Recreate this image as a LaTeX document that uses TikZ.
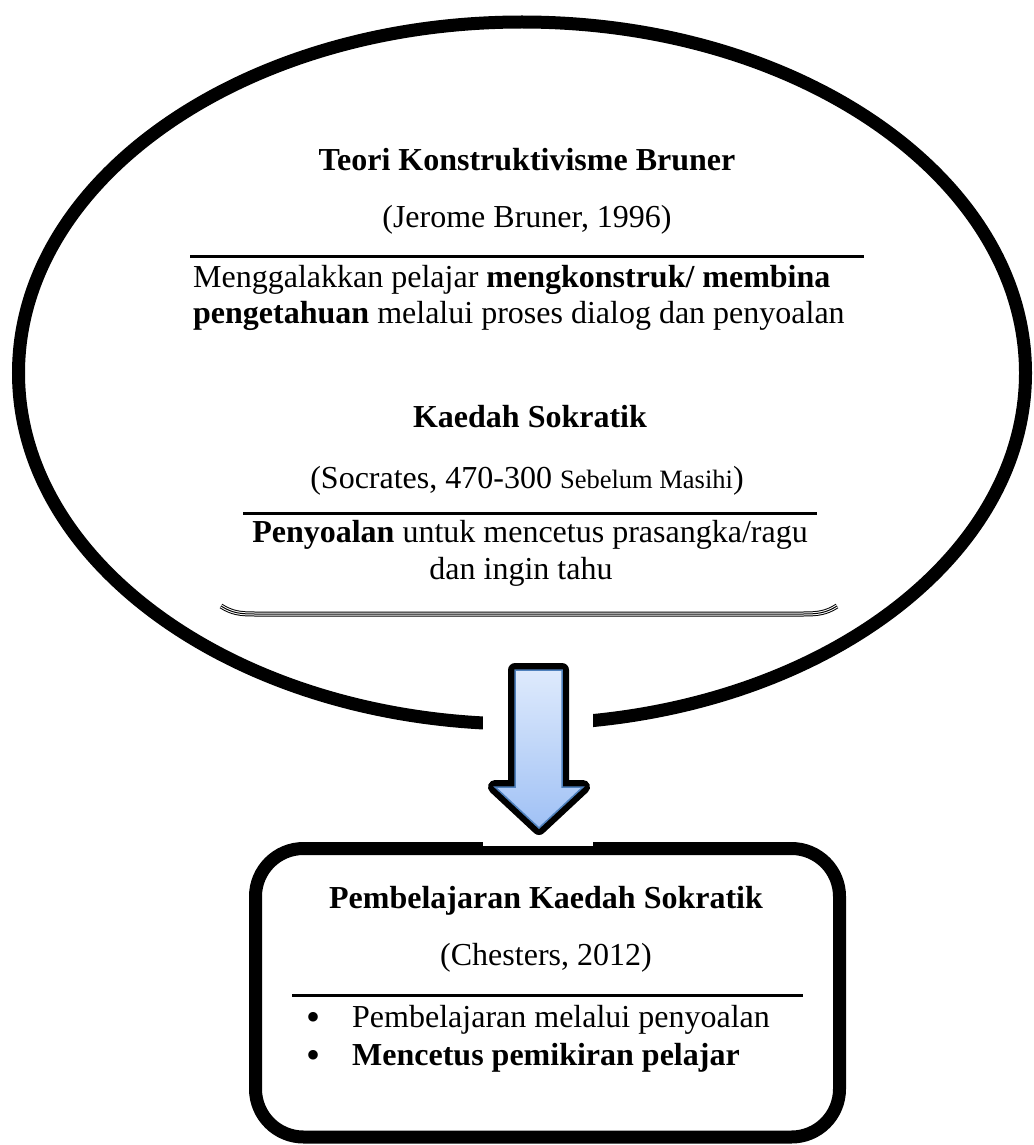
\documentclass[tikz,border=0pt]{standalone}
\usepackage{fontspec}
\setmainfont{Liberation Serif}
\definecolor{arrowblue}{RGB}{79,129,189}
\definecolor{arrowtop}{RGB}{222,234,252}
\definecolor{arrowbot}{RGB}{160,193,245}
\tikzset{
  txt/.style={inner sep=0pt, anchor=base, font=\fontsize{32}{37}\selectfont},
  txtw/.style={txt, anchor=base west},
  bul/.style={inner sep=0pt, anchor=base, text height=16pt, text depth=0pt, font=\fontsize{40}{40}\selectfont},
  rulerline/.style={line width=3pt},
  heavy/.style={line width=13pt},
  tripleouter/.style={line width=5pt, black},
  triplemid/.style={line width=3pt, white},
  tripleinner/.style={line width=1pt, black},
}
\begin{document}
\begin{tikzpicture}[x=1pt,y=-1pt]
\useasboundingbox (0,0) rectangle (1033,1145);
% ellipse
\draw[heavy] (522,373) ellipse [x radius=503.5, y radius=351];
% box
\draw[heavy, rounded corners=48pt] (255.5,848.5) rectangle (839.5,1137);
% white halo behind arrow
\fill[white] (483,655) rectangle (593,846);
% arrow
\draw[line width=14pt, line join=round] (515,670) -- (562,670) -- (562,787) -- (583,787) -- (539,828) -- (495,787) -- (515,787) -- cycle;
\draw[top color=arrowtop, bottom color=arrowbot, draw=arrowblue, line width=1.5pt, line join=miter]
  (515,670) -- (562,670) -- (562,787) -- (583,787) -- (539,828) -- (495,787) -- (515,787) -- cycle;
% top texts
\node[txt] (t1) at (527,170) {\textbf{Teori Konstruktivisme Bruner}};
\node[txt] (t2) at (527,227) {(Jerome Bruner, 1996)};
\draw[rulerline] (190,256) -- (864,256);
\node[txtw] (t3) at (193,287) {Menggalakkan pelajar \textbf{mengkonstruk/ membina}};
\node[txtw] (t4) at (193,323) {\textbf{pengetahuan} melalui proses dialog dan penyoalan};
\node[txt] (k1) at (530,427) {\textbf{Kaedah Sokratik}};
\node[txt] (k2) at (527,488) {(Socrates, 470-300 {\fontsize{26.5}{30}\selectfont Sebelum Masihi})};
\draw[rulerline] (243,513) -- (817,513);
\node[txt] (k3) at (530,542) {\textbf{Penyoalan} untuk mencetus prasangka/ragu};
\node[txt] (k4) at (521,579) {dan ingin tahu};
% triple line
\foreach \st in {tripleouter,triplemid,tripleinner}{
  \draw[\st] (221,606) .. controls (232,613) and (240,614) .. (255,614) -- (803,614) .. controls (818,614) and (826,613) .. (837,606);
}
% box texts
\node[txt] (p1) at (546,908) {\textbf{Pembelajaran Kaedah Sokratik}};
\node[txt] (p2) at (546,965) {(Chesters, 2012)};
\draw[rulerline] (292,995) -- (803,995);
\node[bul] (b1) at (313,1030) {•};
\node[txtw] (p3) at (352,1027) {Pembelajaran melalui penyoalan};
\node[bul] (b2) at (313,1068) {•};
\node[txtw] (p4) at (352,1065) {\textbf{Mencetus pemikiran pelajar}};
\end{tikzpicture}
\end{document}
